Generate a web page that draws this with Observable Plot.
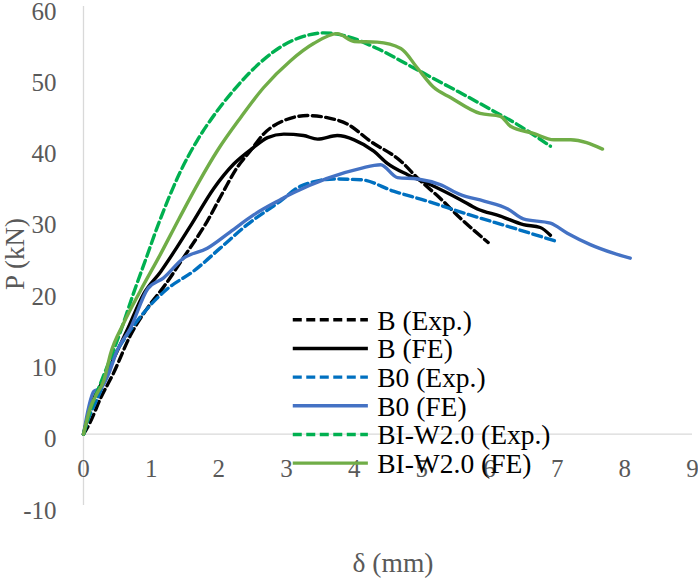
<!DOCTYPE html>
<html>
<head>
<meta charset="utf-8">
<script src="https://cdn.jsdelivr.net/npm/d3@7"></script>
<script src="https://cdn.jsdelivr.net/npm/@observablehq/plot@0.6"></script>
<style>
  html, body { margin: 0; padding: 0; background: #fff; }
  #chart svg { display: block; }
  #chart svg, #chart svg text { font-family: "Liberation Serif", "Times New Roman", serif !important; }
</style>
</head>
<body>
<div id="chart"></div>
<script>
// Tick labels
const xTicks = [0, 1, 2, 3, 4, 5, 6, 7, 8, 9];
const yTicks = [-10, 0, 10, 20, 30, 40, 50, 60];

// Load–deflection curves: δ (mm) and P (kN)
const bExpD = [0, 0.1, 0.25, 0.44, 0.69, 0.99, 1.18, 1.48, 1.83, 2.07, 2.27, 2.47, 2.66, 2.96, 3.31, 3.6, 3.9, 4.24, 4.69, 4.94, 5.27, 5.57, 5.98];
const bExpP = [0, 1.7, 5.0, 8.5, 13.8, 18.3, 20.6, 24.8, 29.9, 34.1, 37.4, 39.8, 42.1, 44.0, 44.7, 44.4, 43.5, 41.1, 38.3, 35.9, 33.1, 30.3, 26.9];

const bFeD = [0, 0.1, 0.3, 0.49, 0.64, 0.89, 1.14, 1.38, 1.6, 1.92, 2.22, 2.51, 2.72, 2.96, 3.25, 3.46, 3.75, 4.0, 4.29, 4.49, 4.79, 5.13, 5.57, 5.82, 6.16, 6.5, 6.75, 6.90];
const bFeP = [0, 3.7, 7.7, 11.5, 14.5, 19.7, 22.8, 26.2, 29.5, 34.4, 37.9, 40.2, 41.6, 42.1, 41.9, 41.4, 41.9, 41.3, 39.7, 38.0, 36.4, 35.0, 32.9, 31.6, 30.6, 29.4, 29.0, 27.9];

const b0ExpD = [0, 0.06, 0.25, 0.44, 0.65, 0.95, 1.24, 1.63, 2.02, 2.42, 2.91, 3.21, 3.70, 4.10, 4.58, 5.08, 5.63, 6.36, 7.01];
const b0ExpP = [0, 1.8, 6.0, 10.7, 14.0, 17.7, 20.4, 22.9, 26.1, 29.4, 32.7, 34.8, 35.8, 35.7, 34.1, 32.7, 31.0, 28.9, 27.0];

const b0FeD = [0, 0.08, 0.15, 0.25, 0.39, 0.49, 0.69, 0.95, 1.18, 1.48, 1.83, 2.17, 2.52, 2.91, 3.11, 3.60, 4.10, 4.39, 4.64, 4.94, 5.27, 5.57, 5.92, 6.27, 6.5, 6.9, 7.15, 7.49, 7.83, 8.08];
const b0FeP = [0, 3.9, 6.0, 6.4, 8.9, 11.6, 14.8, 20.4, 21.9, 24.7, 26.1, 28.4, 30.8, 32.9, 33.9, 35.9, 37.3, 37.8, 36.0, 35.8, 35.0, 33.6, 32.7, 31.6, 30.2, 29.6, 28.2, 26.6, 25.4, 24.7];

const wExpD = [0, 0.1, 0.25, 0.4, 0.55, 0.74, 0.93, 1.1, 1.28, 1.43, 1.68, 1.98, 2.27, 2.62, 2.96, 3.25, 3.55, 3.9, 4.34, 4.84, 5.27, 5.53, 6.01, 6.42, 6.90];
const wExpP = [0, 3.3, 7.1, 10.7, 14.5, 19.8, 24.8, 29.3, 33.6, 36.8, 41.2, 45.4, 48.8, 52.2, 54.6, 55.8, 56.3, 55.8, 54.1, 51.6, 49.4, 48.1, 45.6, 43.4, 40.4];

const wFeD = [0, 0.1, 0.2, 0.3, 0.4, 0.59, 0.84, 1.14, 1.41, 1.7, 1.98, 2.32, 2.66, 3.06, 3.4, 3.75, 4.0, 4.34, 4.69, 4.94, 5.17, 5.43, 5.86, 6.16, 6.31, 6.65, 6.95, 7.20, 7.67];
const wFeP = [0, 3.7, 5.7, 7.5, 11.3, 15.5, 20.1, 25.3, 30.2, 35.3, 39.8, 44.4, 48.6, 52.4, 54.8, 56.2, 55.1, 55.0, 54.1, 51.3, 48.7, 47.2, 45.0, 44.6, 43.2, 42.2, 41.3, 41.3, 40.0];

const seriesNames = ["B (Exp.)", "B (FE)", "B0 (Exp.)", "B0 (FE)", "BI-W2.0 (Exp.)", "BI-W2.0 (FE)"];
const seriesD = [bExpD, bFeD, b0ExpD, b0FeD, wExpD, wFeD];
const seriesP = [bExpP, bFeP, b0ExpP, b0FeP, wExpP, wFeP];
const seriesColors = ["#000000", "#000000", "#0070C0", "#4472C4", "#00B050", "#70AD47"];
const seriesDashed = [true, false, true, false, true, false];

// Legend placement (in axis units) inside the plot area
const legendX1 = 3.10, legendX2 = 4.21, legendTextX = 4.34;
const legendTop = 16.05, legendStep = 4.02;

const font = "Liberation Serif";
const gray = "#595959";
const axisGray = "#d9d9d9";

const marks = [];

// Axis lines: vertical at δ = 0, horizontal at P = 0
marks.push(Plot.ruleX([0], {y1: -10, y2: 60, stroke: axisGray, strokeWidth: 1.3}));
marks.push(Plot.ruleY([0], {x1: 0, x2: 9, stroke: axisGray, strokeWidth: 1.3}));

// Tick labels
marks.push(Plot.text(yTicks, {
  y: d => d, frameAnchor: "left", dx: -27, textAnchor: "end", dy: 5,
  text: d => String(d), fill: gray, fontSize: 25, fontFamily: font
}));
marks.push(Plot.text(xTicks, {
  x: d => d, y: 0, dy: 35, text: d => String(d), fill: gray, fontSize: 25, fontFamily: font
}));

// Axis titles
marks.push(Plot.text(["P (kN)"], {
  frameAnchor: "left", rotate: -90, textAnchor: "middle", lineAnchor: "middle",
  dx: -68, dy: -2, fill: gray, fontSize: 27, fontFamily: font
}));
marks.push(Plot.text(["δ (mm)"], {
  frameAnchor: "bottom", textAnchor: "middle", lineAnchor: "middle",
  dx: 5, dy: 58, fill: gray, fontSize: 27.5, fontFamily: font
}));

// Curves
seriesNames.forEach((name, i) => {
  const rows = seriesD[i].map((d, k) => ({d, p: seriesP[i][k]}));
  marks.push(Plot.line(rows, {
    x: "d", y: "p", stroke: seriesColors[i], strokeWidth: 3.4,
    strokeDasharray: seriesDashed[i] ? "9,4.5" : null,
    curve: "monotone-x", strokeLinejoin: "round"
  }));
});

// Legend
seriesNames.forEach((name, i) => {
  const ly = legendTop - i * legendStep;
  marks.push(Plot.ruleY([ly], {
    x1: legendX1, x2: legendX2, stroke: seriesColors[i], strokeWidth: 3.4,
    strokeDasharray: seriesDashed[i] ? "9,4.5" : null
  }));
  marks.push(Plot.text([name], {
    x: legendTextX, y: ly, textAnchor: "start", dy: 1, fill: "#000", fontSize: 27.5, fontFamily: font
  }));
});

const chart = Plot.plot({
  width: 698,
  height: 579,
  marginLeft: 83,
  marginRight: 6,
  marginTop: 6,
  marginBottom: 74,
  x: {domain: [0, 9], axis: null},
  y: {domain: [-10, 60], axis: null},
  style: {background: "#fff", overflow: "visible"},
  marks
});

document.getElementById("chart").appendChild(chart);
</script>
</body>
</html>
